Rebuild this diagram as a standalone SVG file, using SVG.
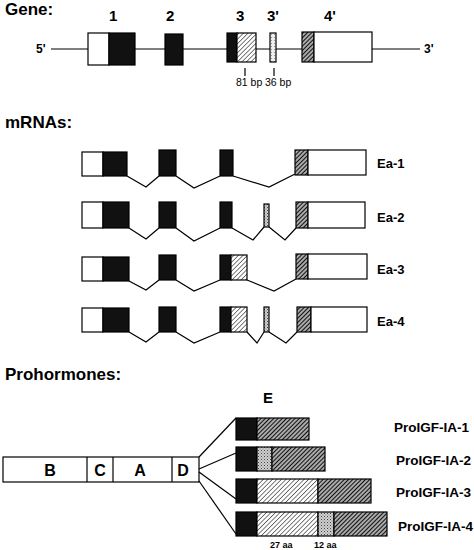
<svg xmlns="http://www.w3.org/2000/svg" width="474" height="550" viewBox="0 0 474 550">
<defs>
<pattern id="hl" patternUnits="userSpaceOnUse" width="3.2" height="3.2" patternTransform="rotate(45)">
<rect width="3.2" height="3.2" fill="#fff"/>
<line x1="0" y1="0" x2="0" y2="3.2" stroke="#111" stroke-width="1.1"/>
</pattern>
<pattern id="hd" patternUnits="userSpaceOnUse" width="3" height="3" patternTransform="rotate(45)">
<rect width="3" height="3" fill="#aaa"/>
<line x1="0" y1="0" x2="0" y2="3" stroke="#111" stroke-width="2"/>
</pattern>
<pattern id="st" patternUnits="userSpaceOnUse" width="3" height="3">
<rect width="3" height="3" fill="#d0d0d0"/>
<rect x="0" y="0" width="1" height="1" fill="#444"/>
<rect x="1.5" y="1.5" width="1" height="1" fill="#777"/>
</pattern>
<pattern id="stl" patternUnits="userSpaceOnUse" width="3" height="3">
<rect width="3" height="3" fill="#eee"/>
<rect x="1" y="1" width="1" height="1" fill="#999"/>
</pattern>
</defs>
<style>
.t{font-family:"Liberation Sans",Arial,sans-serif;font-weight:bold;fill:#000}
.r{font-family:"Liberation Sans",Arial,sans-serif;fill:#000}
.b{stroke:#000;stroke-width:1.2}
.w{fill:#fff}
.k{fill:#111}
.ln{fill:none;stroke:#000;stroke-width:1.2}
</style>

<g id="gene">
<text class="t" x="5" y="15" font-size="17">Gene:</text>
<text class="t" x="109" y="21" font-size="15">1</text>
<text class="t" x="166" y="21" font-size="15">2</text>
<text class="t" x="236" y="21" font-size="15">3</text>
<text class="t" x="267" y="21" font-size="15">3'</text>
<text class="t" x="324" y="21" font-size="15">4'</text>
<text class="t" x="36" y="53" font-size="12">5'</text>
<text class="t" x="424" y="53" font-size="12">3'</text>
<line class="ln" x1="51" y1="49" x2="420" y2="49"/>
<rect class="b w" x="88" y="33" width="21" height="32"/>
<rect class="b k" x="109" y="33" width="26" height="32"/>
<rect class="b k" x="165" y="34" width="18" height="31"/>
<rect class="b k" x="227" y="33" width="10" height="29"/>
<rect class="b" fill="url(#hl)" x="237" y="33" width="19" height="29"/>
<rect class="b" fill="url(#stl)" x="270" y="33" width="6" height="29"/>
<rect class="b" fill="url(#hd)" x="302" y="32" width="12" height="30"/>
<rect class="b w" x="314" y="32" width="58" height="30"/>
<line class="ln" x1="245" y1="68" x2="245" y2="76"/>
<line class="ln" x1="274" y1="68" x2="274" y2="76"/>
<text class="r" x="236" y="86" font-size="10.5">81 bp</text>
<text class="r" x="265" y="86" font-size="10.5">36 bp</text>
</g>

<text class="t" x="5" y="128" font-size="17">mRNAs:</text>

<g id="ea1">
<rect class="b w" x="82" y="152" width="21" height="24"/>
<rect class="b k" x="103" y="152" width="24" height="24"/>
<rect class="b k" x="159" y="150" width="17" height="26"/>
<rect class="b k" x="220" y="150" width="13" height="26"/>
<rect class="b" fill="url(#hd)" x="295" y="150" width="13" height="25"/>
<rect class="b w" x="308" y="150" width="58" height="25"/>
<text class="t" x="377" y="168" font-size="13">Ea-1</text>
</g>
<g id="ea2">
<rect class="b w" x="82" y="202" width="21" height="26"/>
<rect class="b k" x="103" y="202" width="26" height="26"/>
<rect class="b k" x="159" y="202" width="17" height="26"/>
<rect class="b k" x="220" y="202" width="12" height="26"/>
<rect class="b" fill="url(#st)" x="264" y="204" width="5" height="23"/>
<rect class="b" fill="url(#hd)" x="296" y="202" width="12" height="26"/>
<rect class="b w" x="308" y="202" width="57" height="26"/>
<text class="t" x="377" y="222" font-size="13">Ea-2</text>
</g>
<g id="ea3">
<rect class="b w" x="82" y="257" width="21" height="24"/>
<rect class="b k" x="103" y="257" width="26" height="24"/>
<rect class="b k" x="159" y="255" width="17" height="25"/>
<rect class="b k" x="220" y="255" width="11" height="25"/>
<rect class="b" fill="url(#hl)" x="231" y="255" width="16" height="25"/>
<rect class="b" fill="url(#hd)" x="296" y="254" width="12" height="25"/>
<rect class="b w" x="308" y="254" width="59" height="25"/>
<text class="t" x="377" y="274" font-size="13">Ea-3</text>
</g>
<g id="ea4">
<rect class="b w" x="82" y="308" width="21" height="24"/>
<rect class="b k" x="103" y="308" width="26" height="24"/>
<rect class="b k" x="159" y="307" width="17" height="25"/>
<rect class="b k" x="220" y="307" width="11" height="25"/>
<rect class="b" fill="url(#hl)" x="231" y="307" width="16" height="25"/>
<rect class="b" fill="url(#st)" x="264" y="307" width="5" height="25"/>
<rect class="b" fill="url(#hd)" x="297" y="307" width="14" height="25"/>
<rect class="b w" x="311" y="307" width="56" height="25"/>
<text class="t" x="377" y="326" font-size="13">Ea-4</text>
</g>

<g id="introns">
<polyline class="ln" points="127,176 146,187 159,176"/>
<polyline class="ln" points="176,176 194,188 220,176"/>
<polyline class="ln" points="233,176 269,187 295,174"/>
<polyline class="ln" points="129,228 146,239 159,228"/>
<polyline class="ln" points="176,228 194,241 220,228"/>
<polyline class="ln" points="232,228 253,240 264,227"/>
<polyline class="ln" points="269,227 285,240 296,228"/>
<polyline class="ln" points="129,281 146,290 159,280"/>
<polyline class="ln" points="176,280 194,291 220,280"/>
<polyline class="ln" points="247,280 274,291 296,279"/>
<polyline class="ln" points="129,332 146,342 159,332"/>
<polyline class="ln" points="176,332 194,343 220,332"/>
<polyline class="ln" points="247,332 257,343 264,332"/>
<polyline class="ln" points="269,332 286,343 297,332"/>
</g>

<text class="t" x="5" y="380" font-size="17">Prohormones:</text>
<text class="t" x="263" y="403" font-size="15">E</text>

<g id="bcad">
<rect class="b w" x="3" y="457" width="196" height="25"/>
<line class="ln" x1="87" y1="457" x2="87" y2="482"/>
<line class="ln" x1="113" y1="457" x2="113" y2="482"/>
<line class="ln" x1="172" y1="457" x2="172" y2="482"/>
<text class="t" x="50" y="476" font-size="16" text-anchor="middle">B</text>
<text class="t" x="100" y="476" font-size="16" text-anchor="middle">C</text>
<text class="t" x="140" y="476" font-size="16" text-anchor="middle">A</text>
<text class="t" x="183" y="476" font-size="16" text-anchor="middle">D</text>
</g>

<g id="connectors">
<line class="ln" x1="199" y1="457" x2="236" y2="418"/>
<line class="ln" x1="199" y1="469" x2="236" y2="453"/>
<line class="ln" x1="199" y1="472" x2="236" y2="499"/>
<line class="ln" x1="199" y1="481" x2="236" y2="534"/>
</g>

<g id="p1">
<rect class="b k" x="236" y="418" width="21" height="22"/>
<rect class="b" fill="url(#hd)" x="257" y="418" width="52" height="22"/>
<text class="t" x="394" y="432" font-size="13.5">ProIGF-IA-1</text>
</g>
<g id="p2">
<rect class="b k" x="236" y="447" width="21" height="24"/>
<rect class="b" fill="url(#st)" x="257" y="447" width="15" height="24"/>
<rect class="b" fill="url(#hd)" x="272" y="447" width="53" height="24"/>
<text class="t" x="396" y="465" font-size="13.5">ProIGF-IA-2</text>
</g>
<g id="p3">
<rect class="b k" x="236" y="479" width="21" height="24"/>
<rect class="b" fill="url(#hl)" x="257" y="479" width="61" height="24"/>
<rect class="b" fill="url(#hd)" x="318" y="479" width="53" height="24"/>
<text class="t" x="396" y="497" font-size="13.5">ProIGF-IA-3</text>
</g>
<g id="p4">
<rect class="b k" x="236" y="512" width="21" height="24"/>
<rect class="b" fill="url(#hl)" x="257" y="512" width="61" height="24"/>
<rect class="b" fill="url(#st)" x="318" y="512" width="16" height="24"/>
<rect class="b" fill="url(#hd)" x="334" y="512" width="53" height="24"/>
<text class="t" x="398" y="531" font-size="13.5">ProIGF-IA-4</text>
</g>
<text class="t" x="270" y="548" font-size="9">27 aa</text>
<text class="t" x="314" y="548" font-size="9">12 aa</text>
</svg>
